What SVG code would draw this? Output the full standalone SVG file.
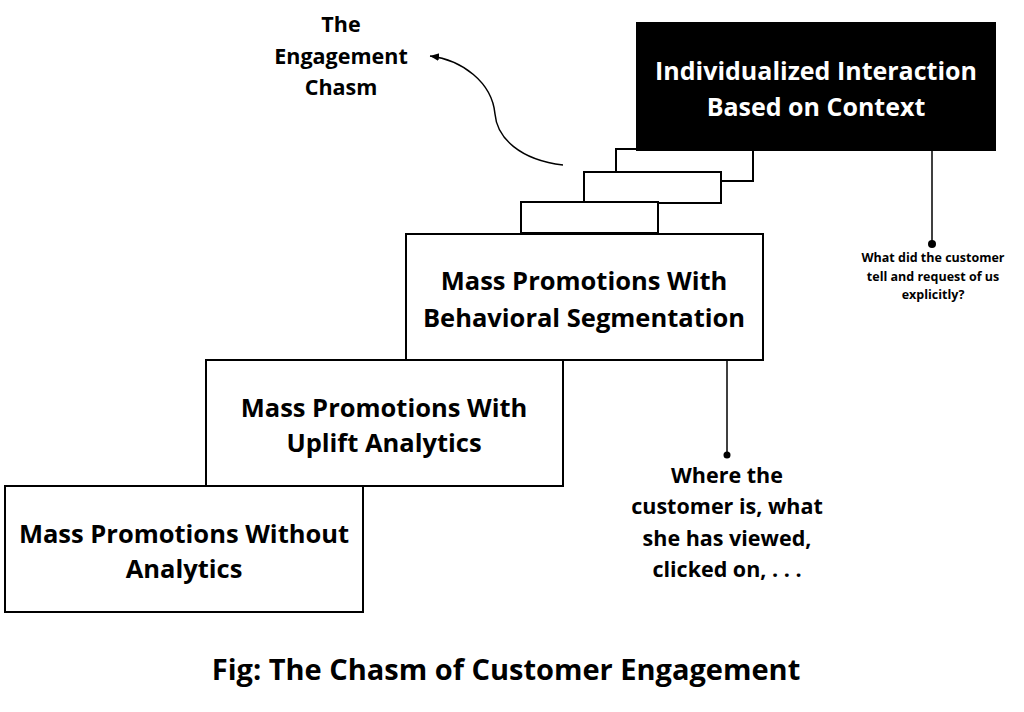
<svg xmlns="http://www.w3.org/2000/svg" width="1024" height="712" viewBox="0 0 1024 712">
<style>
.box{fill:#fff;stroke:#000;stroke-width:2}
.dark{fill:#000;stroke:#000;stroke-width:2}
.t{font-family:"Open Sans","Liberation Sans",sans-serif;font-weight:bold;text-anchor:middle;fill:#000}
.lbl{font-size:25.5px}
.w{fill:#fff}
.line{fill:none;stroke:#000;stroke-width:1.5}
</style>
<defs>
<marker id="ah" markerWidth="10" markerHeight="10" refX="9" refY="5" orient="auto" markerUnits="userSpaceOnUse">
<path d="M0,1 L9,5 L0,9 Z" fill="#000"/>
</marker>
</defs>
<rect width="1024" height="712" fill="#fff"/>
<g id="step-c"><rect class="box" x="616" y="149" width="137" height="32"/></g>
<g id="top-box">
<rect class="dark" x="637" y="23" width="358" height="127"/>
<text class="t w" x="816" y="80" font-size="25">Individualized Interaction</text>
<text class="t w" x="816" y="116" font-size="25">Based on Context</text>
</g>
<g id="step-b"><rect class="box" x="584" y="172" width="137" height="31"/></g>
<g id="step-a"><rect class="box" x="521" y="202" width="137" height="31"/></g>
<g id="box3">
<rect class="box" x="406" y="234" width="357" height="126"/>
<text class="t lbl" x="584" y="290">Mass Promotions With</text>
<text class="t lbl" x="584" y="327">Behavioral Segmentation</text>
</g>
<g id="box2">
<rect class="box" x="206" y="360" width="357" height="126"/>
<text class="t lbl" x="384" y="417">Mass Promotions With</text>
<text class="t lbl" x="384" y="452">Uplift Analytics</text>
</g>
<g id="box1">
<rect class="box" x="5" y="486" width="358" height="126"/>
<text class="t lbl" x="184" y="543">Mass Promotions Without</text>
<text class="t lbl" x="184" y="578">Analytics</text>
</g>
<g id="connectors">
<path class="line" d="M563,165 C520,160 497,138 495,114 C492,82 462,60 430,56" marker-end="url(#ah)"/>
<line class="line" x1="932" y1="150" x2="932" y2="243"/>
<circle cx="932" cy="244" r="4" fill="#000"/>
<line class="line" x1="727" y1="360" x2="727" y2="454"/>
<circle cx="727" cy="455" r="3.5" fill="#000"/>
</g>
<g id="chasm-label">
<text class="t" font-size="21.5" x="341" y="32">The</text>
<text class="t" font-size="21.5" x="341" y="64">Engagement</text>
<text class="t" font-size="21.5" x="341" y="95">Chasm</text>
</g>
<g id="note-explicit">
<text class="t" font-size="12.5" x="933" y="262">What did the customer</text>
<text class="t" font-size="12.5" x="933" y="281">tell and request of us</text>
<text class="t" font-size="12.5" x="933" y="299">explicitly?</text>
</g>
<g id="note-behavior">
<text class="t" font-size="21.5" x="727" y="483">Where the</text>
<text class="t" font-size="21.5" x="727" y="514">customer is, what</text>
<text class="t" font-size="21.5" x="727" y="546">she has viewed,</text>
<text class="t" font-size="21.5" x="727" y="577">clicked on, . . .</text>
</g>
<text class="t" font-size="29" x="506" y="680">Fig: The Chasm of Customer Engagement</text>
</svg>
